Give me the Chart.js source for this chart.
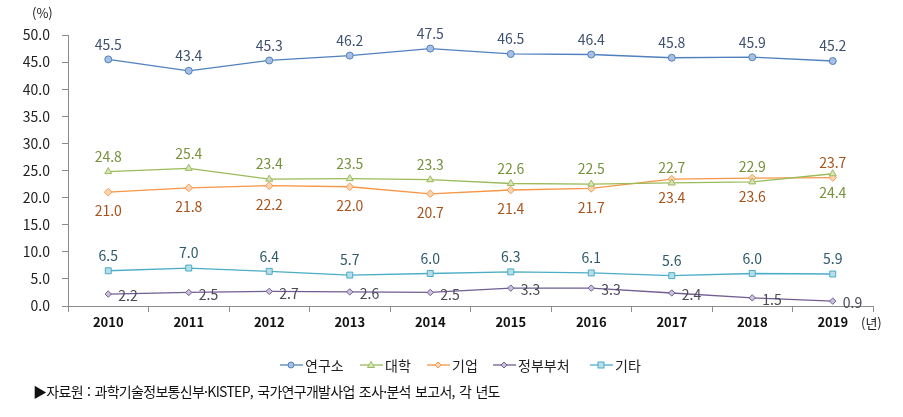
<!DOCTYPE html>
<html lang="ko">
<head>
<meta charset="utf-8">
<script src="https://cdn.jsdelivr.net/npm/chart.js@4/dist/chart.umd.min.js"></script>
<style>
  body { margin: 0; background: #fff; font-family: "Noto Sans CJK KR", "Noto Sans", sans-serif; }
  #wrap { position: relative; width: 903px; height: 417px; overflow: hidden; }
  #c { position: absolute; left: 0; top: 0; }
  .unit { position: absolute; font-size: 13px; color: #222; }
  #legend { position: absolute; left: 0; top: 355px; width: 903px; height: 20px; }
  .lg { position: absolute; top: 0; display: flex; align-items: center; font-size: 14px; color: #222; }
  .lg svg { margin-right: 2px; }
  #source { position: absolute; left: 33px; top: 381px; font-size: 14px; color: #111; letter-spacing: -0.7px; word-spacing: 1px; white-space: nowrap; }
</style>
</head>
<body>
<div id="wrap">
  <canvas id="c" width="903" height="417"></canvas>
  <div class="unit" style="left:32px; top:3px;">(%)</div>
  <div class="unit" style="left:861px; top:313px;">(년)</div>
  <div id="legend"></div>
  <div id="source">▶자료원 : 과학기술정보통신부·KISTEP, 국가연구개발사업 조사·분석 보고서, 각 년도</div>
</div>
<script>
/* 연구개발 수행주체별 비중 (%) */
const YEARS = ['2010', '2011', '2012', '2013', '2014', '2015', '2016', '2017', '2018', '2019'];
const Y_TICKS = [0, 5, 10, 15, 20, 25, 30, 35, 40, 45, 50];

const RESEARCH = [45.5, 43.4, 45.3, 46.2, 47.5, 46.5, 46.4, 45.8, 45.9, 45.2];   // 연구소
const UNIV     = [24.8, 25.4, 23.4, 23.5, 23.3, 22.6, 22.5, 22.7, 22.9, 24.4];   // 대학
const COMPANY  = [21.0, 21.8, 22.2, 22.0, 20.7, 21.4, 21.7, 23.4, 23.6, 23.7];   // 기업
const GOV      = [2.2, 2.5, 2.7, 2.6, 2.5, 3.3, 3.3, 2.4, 1.5, 0.9];             // 정부부처
const ETC      = [6.5, 7.0, 6.4, 5.7, 6.0, 6.3, 6.1, 5.6, 6.0, 5.9];             // 기타

const FONT = '"Noto Sans CJK KR", "Noto Sans", sans-serif';
const AXIS = '#8c8c8c';

// 라벨 위치 (스타일)
const up = n => Array(n).fill('top'), down = n => Array(n).fill('bottom');
const SERIES = [
  { label: '연구소', data: RESEARCH, line: '#4f81bd', fill: '#a7bfe3', text: '#3f5170', style: 'circle', r: 3.5, pos: up(10) },
  { label: '대학', data: UNIV, line: '#9bbb59', fill: '#d7e4bd', text: '#76923c', style: 'triangle', r: 4, pos: [...up(9), 'bottom'] },
  { label: '기업', data: COMPANY, line: '#f79646', fill: '#fcd5b5', text: '#a8531c', style: 'rectRot', r: 3.8, pos: [...down(9), 'top'] },
  { label: '정부부처', data: GOV, line: '#6f5e92', fill: '#ccc1da', text: '#4a4a58', style: 'rectRot', r: 3.2, pos: Array(10).fill('right') },
  { label: '기타', data: ETC, line: '#4bacc6', fill: '#b7dee8', text: '#2e5a6b', style: 'rect', r: 4.2, pos: up(10) },
];

const valueLabels = {
  id: 'valueLabels',
  afterDatasetsDraw(chart) {
    const ctx = chart.ctx;
    ctx.save();
    ctx.font = '14px ' + FONT;
    ctx.textBaseline = 'middle';
    chart.data.datasets.forEach((ds, di) => {
      const s = SERIES[di];
      ctx.fillStyle = s.text;
      chart.getDatasetMeta(di).data.forEach((pt, i) => {
        const txt = ds.data[i].toFixed(1);
        const p = s.pos[i];
        if (p === 'right') { ctx.textAlign = 'left'; ctx.fillText(txt, pt.x + 10, pt.y + 2); }
        else if (p === 'bottom') { ctx.textAlign = 'center'; ctx.fillText(txt, pt.x, pt.y + 19); }
        else { ctx.textAlign = 'center'; ctx.fillText(txt, pt.x, pt.y - 15); }
      });
    });
    ctx.restore();
  }
};

new Chart('c', {
  type: 'line',
  data: {
    labels: YEARS,
    datasets: SERIES.map(s => ({
      label: s.label, data: s.data,
      borderColor: s.line, borderWidth: 1.3, tension: 0,
      pointStyle: s.style, pointRadius: s.r, pointBorderWidth: 1,
      pointBackgroundColor: s.fill, pointBorderColor: s.line
    }))
  },
  options: {
    responsive: false, animation: false,
    layout: { padding: { left: 0, right: 30, top: 35, bottom: 81 } },
    plugins: { legend: { display: false }, tooltip: { enabled: false } },
    scales: {
      x: {
        offset: true,
        grid: { offset: true, drawOnChartArea: false, color: AXIS, tickLength: 6 },
        border: { color: AXIS },
        ticks: { color: '#111', padding: 2, font: { family: FONT, size: 13, weight: 'bold' } },
        afterFit: sc => { sc.height = 30; }
      },
      y: {
        min: 0, max: 50,
        afterBuildTicks: sc => { sc.ticks = Y_TICKS.map(v => ({ value: v })); },
        grid: { drawOnChartArea: false, color: AXIS, tickLength: 6 },
        border: { color: AXIS },
        ticks: { color: '#222', padding: 12, callback: v => v.toFixed(1), font: { family: FONT, size: 14 } },
        afterFit: sc => { sc.width = 68; }
      }
    }
  },
  plugins: [valueLabels]
});

/* ---- 범례 (선 + 마커) ---- */
const LEGEND_X = [280, 360, 427, 493, 590];
function markerSvg(s) {
  let m;
  if (s.style === 'circle') m = `<circle cx="11" cy="7" r="3" fill="${s.fill}" stroke="${s.line}"/>`;
  else if (s.style === 'triangle') m = `<polygon points="11,3.5 14.5,9.5 7.5,9.5" fill="${s.fill}" stroke="${s.line}"/>`;
  else if (s.style === 'rectRot') m = `<polygon points="11,4 14,7 11,10 8,7" fill="${s.fill}" stroke="${s.line}"/>`;
  else m = `<rect x="8" y="4" width="6" height="6" fill="${s.fill}" stroke="${s.line}"/>`;
  return `<svg width="23" height="14"><line x1="0" y1="7" x2="23" y2="7" stroke="${s.line}" stroke-width="1.3"/>${m}</svg>`;
}
document.getElementById('legend').innerHTML = SERIES.map((s, i) =>
  `<div class="lg" style="left:${LEGEND_X[i]}px">${markerSvg(s)}<span>${s.label}</span></div>`).join('');
</script>
</body>
</html>
